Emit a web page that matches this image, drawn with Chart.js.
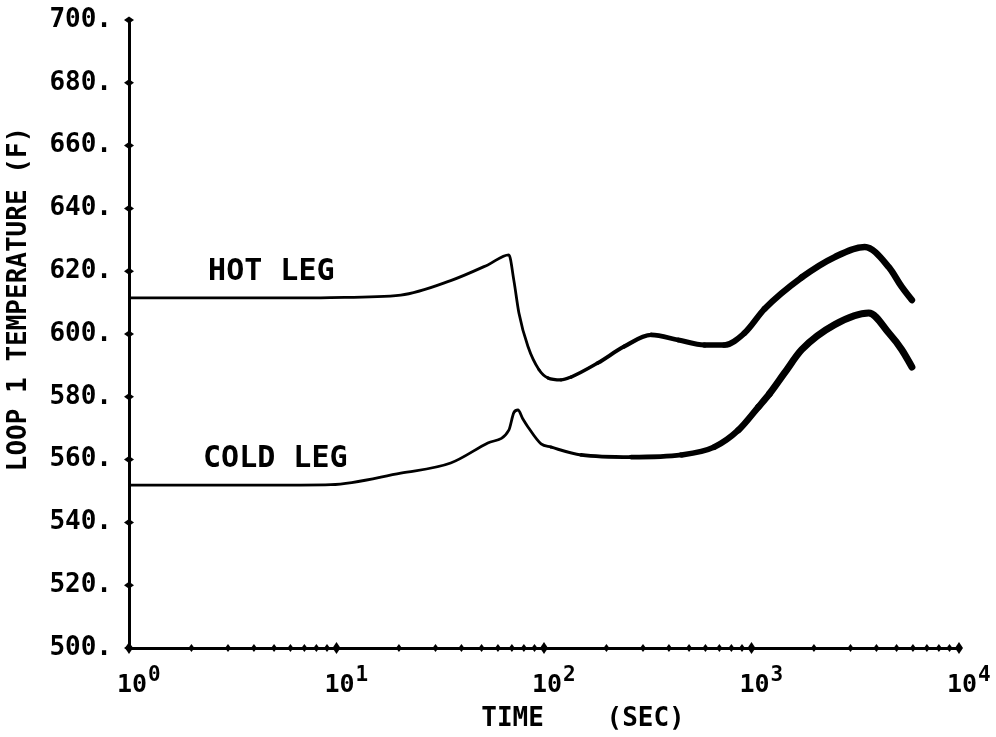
<!DOCTYPE html>
<html>
<head>
<meta charset="utf-8">
<script src="https://cdn.jsdelivr.net/npm/chart.js@4"></script>
<style>
  html, body { margin: 0; padding: 0; background: #fff; }
  #wrap { width: 996px; height: 737px; position: relative; }
</style>
</head>
<body>
<div id="wrap"><canvas id="c"></canvas></div>
<script>
// ---- data ----
const hotTime = [1, 3, 6.7, 9.4, 20.4, 35.5, 53.6, 67.7, 71.6, 75.7, 83.7, 94.6, 104.5, 120.8, 135, 182, 243, 329, 444, 593, 741, 925, 1156, 1745, 2518, 3515, 4590, 5300, 5930];
const hotTemp = [611.5, 611.5, 611.5, 611.6, 612.4, 617, 622, 625.2, 617, 606.7, 596, 588.6, 586, 585.4, 586.3, 590.8, 596, 599.7, 598.1, 596.5, 596.5, 600.3, 608, 618, 624.5, 627.7, 621.3, 615, 610.8];

const coldTime = [1, 6.7, 9.4, 20.4, 35.5, 53.6, 67.7, 71.6, 74.9, 79, 83.7, 96.8, 108, 151, 263, 459, 662, 865, 1081, 1222, 1443, 1745, 2518, 3675, 4590, 5300, 5930];
const coldTemp = [551.9, 551.9, 552, 555.7, 558.9, 565.3, 569.4, 575, 575.8, 573, 570.4, 565, 564, 561.5, 560.8, 561.5, 564, 569.4, 576.8, 581, 587.6, 595, 603, 606.7, 600.3, 595, 589.5];

const xTickValues = [1,2,3,4,5,6,7,8,9,10,20,30,40,50,60,70,80,90,100,200,300,400,500,600,700,800,900,1000,2000,3000,4000,5000,6000,7000,8000,9000,10000];
const xTickBase = '10';
const xTickExponents = {1: '0', 10: '1', 100: '2', 1000: '3', 10000: '4'};
const yTickValues = [500, 520, 540, 560, 580, 600, 620, 640, 660, 680, 700];

const curveLabels = ['HOT LEG', 'COLD LEG'];
const curveLabelTime = [4.85, 5.07];
const curveLabelTemp = [619.7, 560.2];

const xTitle = 'TIME    (SEC)';
const yTitle = 'LOOP 1 TEMPERATURE (F)';

// ---- rendering ----
const FONT = "'DejaVu Sans Mono', monospace";
const toPts = (xs, ys) => xs.map((x, i) => ({x, y: ys[i]}));

// pen width grows with time (the trace gets heavier on the late part of the plot)
function ramp(t, t0, t1, w0, w1) {
  const f = Math.min(1, Math.max(0, (Math.log10(t) - Math.log10(t0)) / (Math.log10(t1) - Math.log10(t0))));
  return w0 + (w1 - w0) * f;
}
const hotWidth = t => ramp(t, 90, 1500, 2.8, 6.5);
const coldWidth = t => ramp(t, 110, 1300, 2.8, 7);
const segWidth = (c, fn) => fn(Math.sqrt(c.p0.parsed.x * c.p1.parsed.x));

const decorPlugin = {
  id: 'decor',
  afterDraw(chart) {
    const {ctx, chartArea: a, scales: {x, y}} = chart;
    ctx.save();
    ctx.fillStyle = '#000';
    // diamond tick marks
    const diamond = (px, py, w, h) => {
      ctx.beginPath();
      ctx.moveTo(px - w, py); ctx.lineTo(px, py - h); ctx.lineTo(px + w, py); ctx.lineTo(px, py + h);
      ctx.closePath(); ctx.fill();
    };
    yTickValues.forEach(v => diamond(a.left, y.getPixelForValue(v), 5, 3.5));
    xTickValues.forEach(v => {
      const major = xTickExponents[v] !== undefined;
      diamond(x.getPixelForValue(v), a.bottom, major ? 4 : 3, major ? 6 : 4);
    });
    // x tick labels: 10 with superscript exponent
    ctx.textAlign = 'left'; ctx.textBaseline = 'alphabetic';
    xTickValues.forEach(v => {
      const e = xTickExponents[v];
      if (e === undefined) return;
      const px = x.getPixelForValue(v) - 12;
      ctx.font = "bold 25px " + FONT;
      ctx.fillText(xTickBase, px, a.bottom + 44);
      const w = ctx.measureText(xTickBase).width;
      ctx.font = "bold 21px " + FONT;
      ctx.fillText(e, px + w + 1, a.bottom + 33);
    });
    // curve labels
    ctx.font = "bold 30px " + FONT;
    ctx.textAlign = 'center'; ctx.textBaseline = 'middle';
    curveLabels.forEach((s, i) => ctx.fillText(s, x.getPixelForValue(curveLabelTime[i]), y.getPixelForValue(curveLabelTemp[i])));
    // axis titles
    ctx.font = "bold 26px " + FONT;
    ctx.fillText(xTitle, a.left + 454, a.bottom + 71);
    ctx.save();
    ctx.translate(a.left - 110, a.top + 279);
    ctx.rotate(-Math.PI / 2);
    ctx.fillText(yTitle, 0, 0);
    ctx.restore();
    ctx.restore();
  }
};

new Chart(document.getElementById('c'), {
  type: 'line',
  data: {
    datasets: [
      {
        label: 'HOT LEG',
        data: toPts(hotTime, hotTemp),
        borderColor: '#000',
        borderWidth: 2.8,
        pointRadius: 0,
        cubicInterpolationMode: 'monotone',
        borderCapStyle: 'round',
        borderJoinStyle: 'round',
        segment: { borderWidth: c => segWidth(c, hotWidth) }
      },
      {
        label: 'COLD LEG',
        data: toPts(coldTime, coldTemp),
        borderColor: '#000',
        borderWidth: 2.8,
        pointRadius: 0,
        cubicInterpolationMode: 'monotone',
        borderCapStyle: 'round',
        borderJoinStyle: 'round',
        segment: { borderWidth: c => segWidth(c, coldWidth) }
      }
    ]
  },
  options: {
    responsive: true,
    maintainAspectRatio: false,
    animation: false,
    events: [],
    layout: { padding: { top: 20, right: 37, left: 0, bottom: 0 } },
    plugins: { legend: { display: false }, tooltip: { enabled: false } },
    scales: {
      x: {
        type: 'logarithmic',
        min: 1, max: 10000,
        afterBuildTicks: s => { s.ticks = xTickValues.map(v => ({value: v})); },
        afterFit: s => { s.height = 89; s.paddingLeft = 0; s.paddingRight = 0; },
        grid: { display: true, drawOnChartArea: false, drawTicks: false, color: 'rgba(0,0,0,0)' },
        border: { display: true, color: '#000', width: 3 },
        ticks: { autoSkip: false, maxRotation: 0, display: true, callback: () => '' }
      },
      y: {
        type: 'linear',
        min: 500, max: 700,
        afterBuildTicks: s => { s.ticks = yTickValues.map(v => ({value: v})); },
        afterFit: s => { s.width = 129; s.paddingTop = 0; s.paddingBottom = 0; },
        grid: { display: true, drawOnChartArea: false, drawTicks: false, color: 'rgba(0,0,0,0)' },
        border: { display: true, color: '#000', width: 3 },
        ticks: {
          padding: 17,
          color: '#000', font: { family: FONT, size: 26, weight: 'bold' },
          callback: v => v + '.'
        }
      }
    }
  },
  plugins: [decorPlugin]
});
</script>
</body>
</html>
